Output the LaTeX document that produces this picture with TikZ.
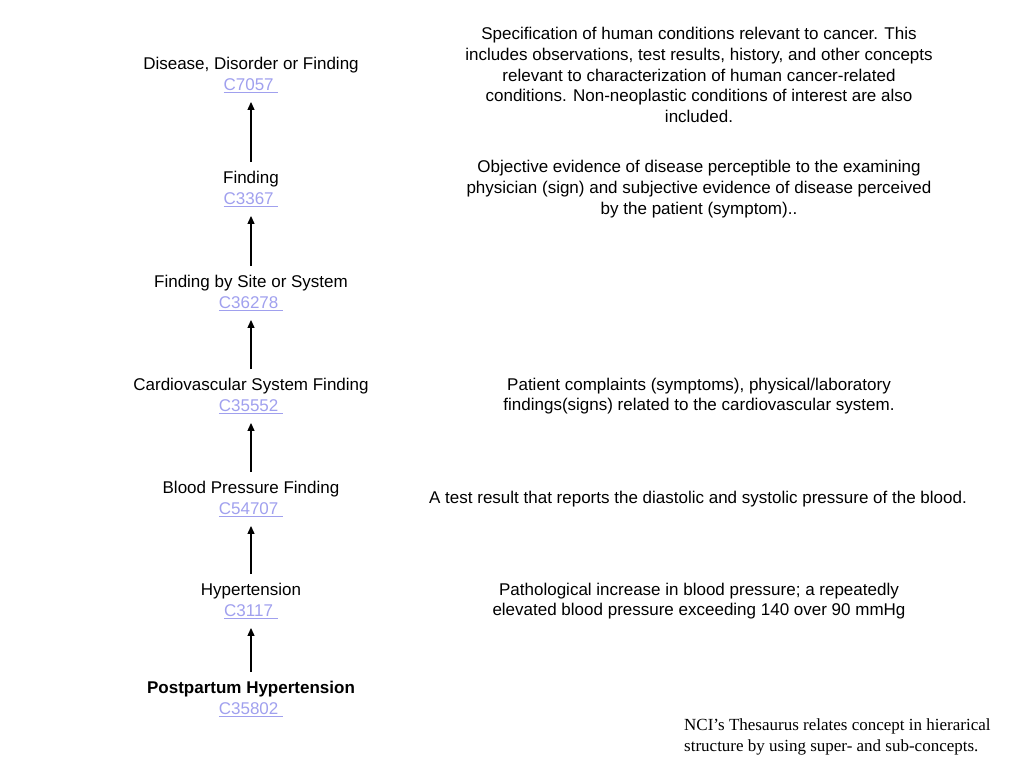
\documentclass[tikz,border=0pt]{standalone}
\usepackage{fontspec}
\setmainfont{Liberation Sans}
\newfontfamily\timesfont{Liberation Serif}
\usetikzlibrary{arrows.meta}
\definecolor{codeblue}{HTML}{A0A0EE}
\newcommand{\conceptcode}[1]{{\color{codeblue}\underline{#1\ }}}
\tikzset{
  concept/.style={align=center, inner sep=0pt, font=\fontsize{17}{21}\selectfont},
  desc/.style={align=center, inner sep=0pt, font=\fontsize{17}{20.8}\selectfont},
  isa/.style={-{Triangle[length=8pt,width=7pt]}, line width=1.2pt, shorten <=9pt, shorten >=9pt},
}
\begin{document}
\begin{tikzpicture}[x=1pt,y=-1pt]
\useasboundingbox (0,0) rectangle (1024,768);
\node[concept] (c1) at (251,75) {Disease, Disorder or Finding\\\conceptcode{C7057}};
\node[concept] (c2) at (251,189) {Finding\\\conceptcode{C3367}};
\node[concept] (c3) at (251,293) {Finding by Site or System\\\conceptcode{C36278}};
\node[concept] (c4) at (251,396) {Cardiovascular System Finding\\\conceptcode{C35552}};
\node[concept] (c5) at (251,499) {Blood Pressure Finding\\\conceptcode{C54707}};
\node[concept] (c6) at (251,601) {Hypertension\\\conceptcode{C3117}};
\node[concept] (c7) at (251,699) {\textbf{Postpartum Hypertension}\\\conceptcode{C35802}};
\draw[isa] (c2) -- (c1);
\draw[isa] (c3) -- (c2);
\draw[isa] (c4) -- (c3);
\draw[isa] (c5) -- (c4);
\draw[isa] (c6) -- (c5);
\draw[isa] (c7) -- (c6);
\node[desc] (d1) at (699,75) {Specification of human conditions relevant to cancer. This\\includes observations, test results, history, and other concepts\\relevant to characterization of human cancer-related\\conditions. Non-neoplastic conditions of interest are also\\included.};
\node[desc] (d2) at (699,189) {Objective evidence of disease perceptible to the examining\\physician (sign) and subjective evidence of disease perceived\\by the patient (symptom)..};
\node[desc] (d4) at (699,396) {Patient complaints (symptoms), physical/laboratory\\findings(signs) related to the cardiovascular system.};
\node[desc] (d5) at (698,499) {A test result that reports the diastolic and systolic pressure of the blood.};
\node[desc] (d6) at (699,601) {Pathological increase in blood pressure; a repeatedly\\elevated blood pressure exceeding 140 over 90 mmHg};
\node[align=left, anchor=west, inner sep=0pt, font=\timesfont\fontsize{17}{20.5}\selectfont] (note) at (684,737) {NCI’s Thesaurus relates concept in hierarical\\structure by using super- and sub-concepts.};
\end{tikzpicture}
\end{document}
